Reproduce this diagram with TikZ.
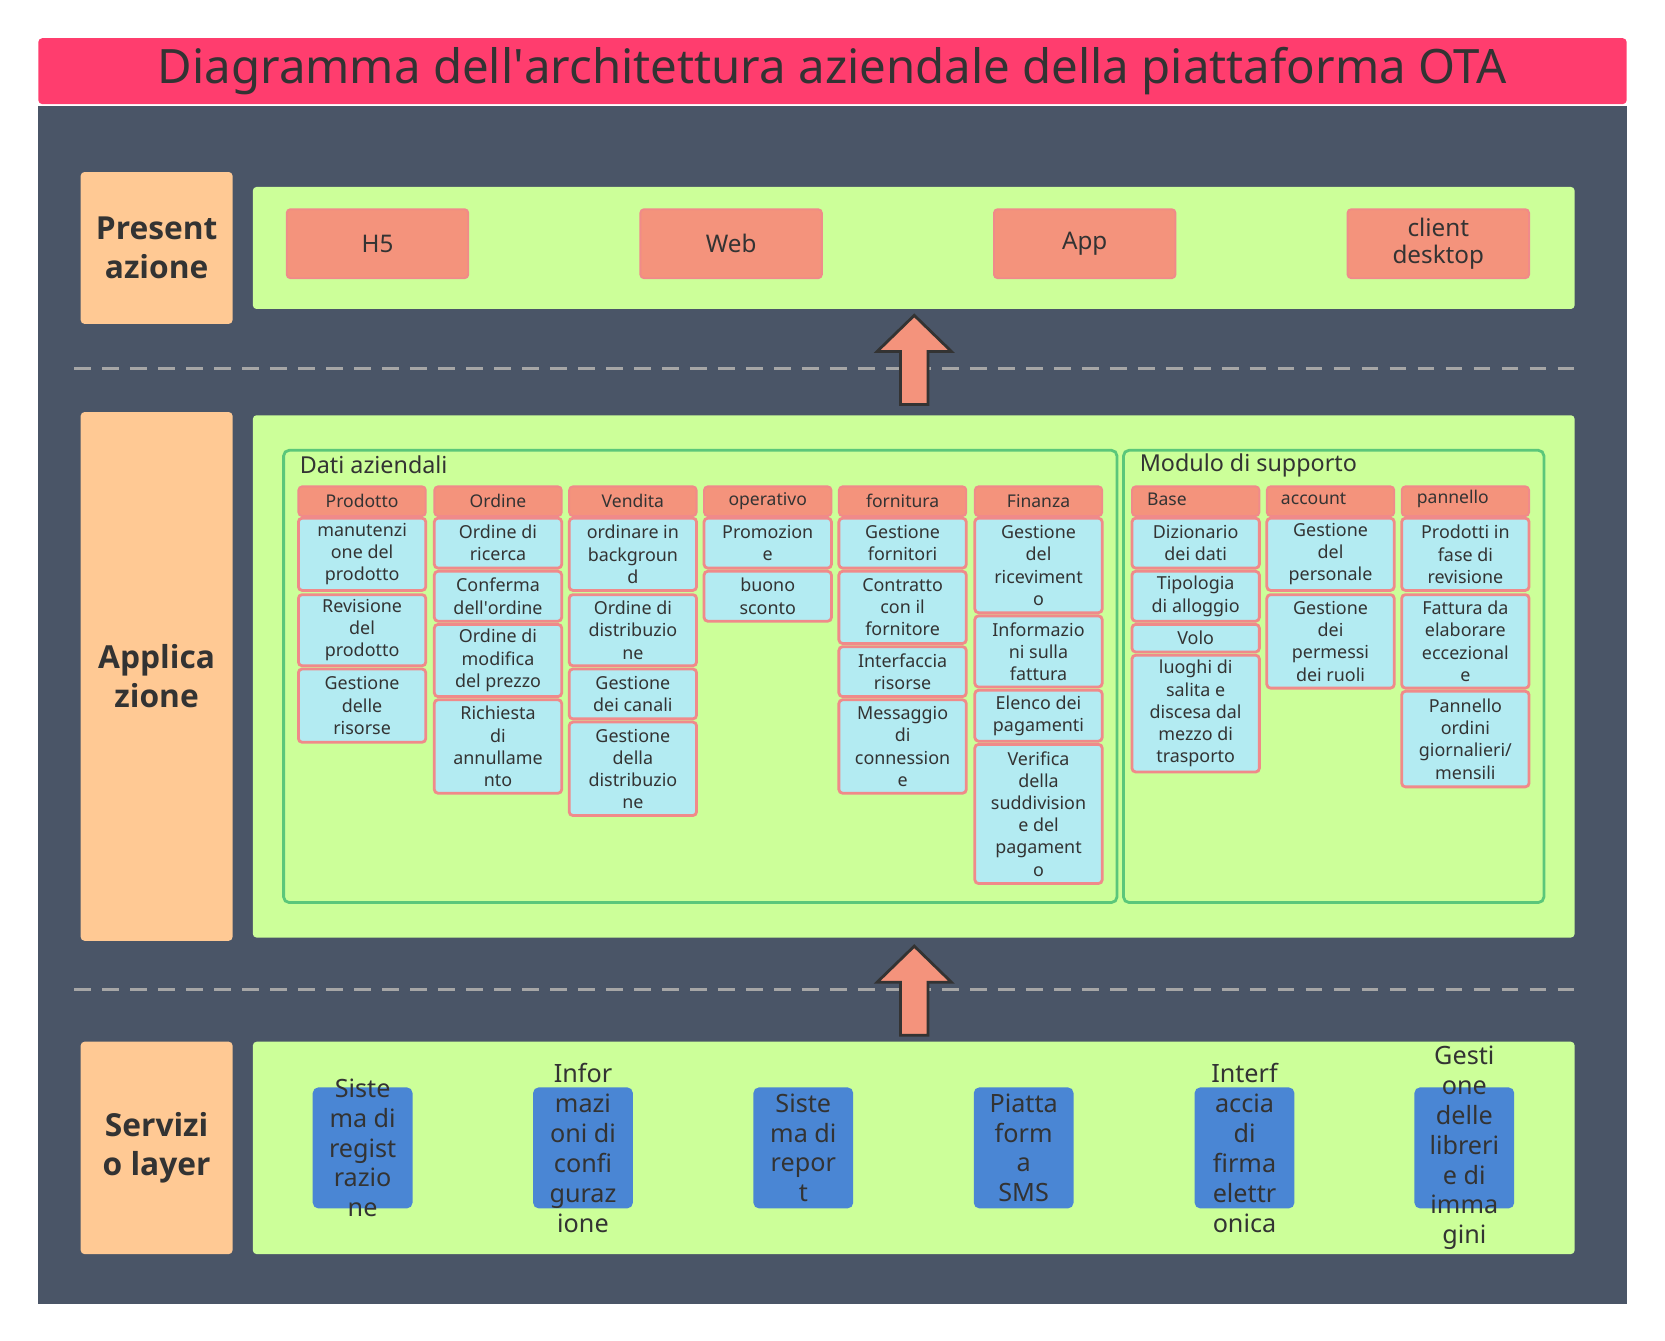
\documentclass[tikz,border=0pt]{standalone}
\usepackage{fontspec}
\setmainfont{Noto Sans}
\newfontfamily\lblfont{Open Sans}
\definecolor{bg}{HTML}{4A5567}
\definecolor{titlec}{HTML}{FF3D6E}
\definecolor{peach}{HTML}{FFC994}
\definecolor{lgreen}{HTML}{CCFF99}
\definecolor{salmon}{HTML}{F4937C}
\definecolor{salb}{HTML}{F08A8A}
\definecolor{cyanb}{HTML}{B3EBF2}
\definecolor{gborder}{HTML}{5BC77A}
\definecolor{blueb}{HTML}{4A86D4}
\definecolor{txt}{HTML}{333333}
\tikzset{
  px/.style={x=0.02cm,y=-0.02cm},
  lbl/.style={fill=peach,rounded corners=2pt,inner sep=0,align=center,font=\lblfont\fontsize{17}{21}\selectfont\bfseries,text=txt},
  panel/.style={fill=lgreen,rounded corners=2pt,inner sep=0},
  pres/.style={fill=salmon,draw=salb,line width=1pt,rounded corners=2pt,minimum width=3.42cm,minimum height=1.3cm,inner sep=0,align=center,font=\fontsize{13}{14}\selectfont,text=txt},
  grp/.style={draw=gborder,line width=1.5pt,rounded corners=3pt,inner sep=0},
  hdr/.style={fill=salmon,draw=salb,line width=1pt,rounded corners=2pt,minimum width=2.4cm,minimum height=0.56cm,inner sep=0,font=\fontsize{9.4}{11}\selectfont,text=txt},
  itembox/.style={fill=cyanb,draw=salb,line width=1.5pt,rounded corners=2pt,minimum width=2.4cm,inner sep=0,align=center,font=\fontsize{9.6}{11.9}\selectfont,text=txt},
  svc/.style={fill=blueb,rounded corners=3pt,minimum width=1.88cm,minimum height=2.28cm,inner sep=0},
  svct/.style={align=center,font=\fontsize{13.5}{16}\selectfont,text=txt,inner sep=0},
  bigarrow/.style={fill=salmon,draw=txt,line width=1.5pt},
  sep/.style={draw=gray!70,dashed,dash pattern=on 9pt off 6pt,line width=1.5pt}
}
\newcommand\itm[5]{\node[itembox,minimum height={(#4-#3)*0.02cm}] (#1) at (#2,{(#3+#4)/2}) {#5};}
\newcommand\hd[3]{\node[hdr] (#1) at (#2,472) {#3};}
\newcommand\hdl[4]{\node[hdr] (#1) at (#2,472) {}; \node[anchor=west,inner sep=0,font=\fontsize{9.4}{11}\selectfont,text=txt] (#1t) at (#3,470) {#4};}
\begin{document}
\begin{tikzpicture}[px]
\useasboundingbox (0,0) rectangle (1568,1262);
\fill[white] (0,0) rectangle (1568,1262);
\fill[bg] (36,100) rectangle (1532,1228);
\node[fill=titlec,rounded corners=2pt,minimum width=29.92cm,minimum height=1.24cm,inner sep=0,font=\fontsize{25.4}{28}\selectfont,text=txt] (title) at (784,67) {Diagramma dell\textquotesingle architettura aziendale della piattaforma OTA};
% left labels
\node[lbl,minimum width=2.86cm,minimum height=2.86cm] (lp) at (147.5,233.5) {Present\\azione};
\node[lbl,minimum width=2.86cm,minimum height=9.96cm] (la) at (147.5,637) {Applica\\zione};
\node[lbl,minimum width=2.86cm,minimum height=4cm] (ls) at (147.5,1081) {Servizi\\o layer};
% panels
\node[panel,minimum width=24.9cm,minimum height=2.3cm] (pp) at (860.5,233.5) {};
\node[panel,minimum width=24.9cm,minimum height=9.84cm] (pa) at (860.5,637) {};
\node[panel,minimum width=24.9cm,minimum height=4cm] (ps) at (860.5,1081) {};
% separators
\draw[sep] (70,347) -- (1483,347);
\draw[sep] (70,932) -- (1483,932);
% arrows
\draw[bigarrow] (848,381) -- (848,331) -- (826,331) -- (861,297) -- (896,331) -- (874,331) -- (874,381) -- cycle;
\draw[bigarrow] (848,975) -- (848,925) -- (826,925) -- (861,891) -- (896,925) -- (874,925) -- (874,975) -- cycle;
% presentation
\node[pres] (h5) at (355.5,229.5) {H5};
\node[pres] (web) at (688.5,229.5) {Web};
\node[pres] (app) at (1021.5,229.5) {App};
\node[pres] (cd) at (1354.5,229.5) {client\\desktop};
% groups
\node[grp,minimum width=15.7cm,minimum height=8.52cm] (g1) at (659.5,637) {};
\node[grp,minimum width=7.92cm,minimum height=8.52cm] (g2) at (1256,637) {};
\node[anchor=west,font=\fontsize{12.5}{14}\selectfont,text=txt,inner sep=0] (g1t) at (282,438) {Dati aziendali};
\node[anchor=west,font=\fontsize{12.5}{14}\selectfont,text=txt,inner sep=0] (g2t) at (1073,438) {Modulo di supporto};
% headers
\hd{h1}{341}{Prodotto}
\hd{h2}{469}{Ordine}
\hd{h3}{596}{Vendita}
\hd{h4}{723}{operativo}
\hd{h5}{850}{fornitura}
\hd{h6}{978}{Finanza}
\hdl{h7}{1126}{1080}{Base}
\hdl{h8}{1253}{1206}{account}
\hdl{h9}{1380}{1334}{pannello}
% items
\itm{a1}{341}{488}{556}{manutenzi\\one del\\prodotto}
\itm{a2}{341}{560}{627}{Revisione\\del\\prodotto}
\itm{a3}{341}{630}{699}{Gestione\\delle\\risorse}
\itm{b1}{469}{488}{535}{Ordine di\\ricerca}
\itm{b2}{469}{538}{585}{Conferma\\dell\textquotesingle ordine}
\itm{b3}{469}{588}{656}{Ordine di\\modifica\\del prezzo}
\itm{b4}{469}{659}{747}{Richiesta\\di\\annullame\\nto}
\itm{c1}{596}{488}{556}{ordinare in\\backgroun\\d}
\itm{c2}{596}{560}{627}{Ordine di\\distribuzio\\ne}
\itm{c3}{596}{630}{677}{Gestione\\dei canali}
\itm{c4}{596}{680}{768}{Gestione\\della\\distribuzio\\ne}
\itm{d1}{723}{488}{535}{Promozion\\e}
\itm{d2}{723}{538}{585}{buono\\sconto}
\itm{e1}{850}{488}{535}{Gestione\\fornitori}
\itm{e2}{850}{538}{606}{Contratto\\con il\\fornitore}
\itm{e3}{850}{609}{656}{Interfaccia\\risorse}
\itm{e4}{850}{659}{747}{Messaggio\\di\\connession\\e}
\itm{f1}{978}{488}{577}{Gestione\\del\\riceviment\\o}
\itm{f2}{978}{580}{647}{Informazio\\ni sulla\\fattura}
\itm{f3}{978}{650}{698}{Elenco dei\\pagamenti}
\itm{f4}{978}{701}{832}{Verifica\\della\\suddivision\\e del\\pagament\\o}
\itm{k1}{1126}{488}{535}{Dizionario\\dei dati}
\itm{k2}{1126}{538}{585}{Tipologia\\di alloggio}
\itm{k3}{1126}{588}{614}{Volo}
\itm{k4}{1126}{617}{727}{luoghi di\\salita e\\discesa dal\\mezzo di\\trasporto}
\itm{m1}{1253}{488}{556}{Gestione\\del\\personale}
\itm{m2}{1253}{560}{648}{Gestione\\dei\\permessi\\dei ruoli}
\itm{n1}{1380}{488}{556}{Prodotti in\\fase di\\revisione}
\itm{n2}{1380}{560}{648}{Fattura da\\elaborare\\eccezional\\e}
\itm{n3}{1380}{651}{741}{Pannello\\ordini\\giornalieri/\\mensili}
% services
\node[svc] (s1) at (341.5,1081) {};
\node[svc] (s2) at (549,1081) {};
\node[svc] (s3) at (756.5,1081) {};
\node[svc] (s4) at (964,1081) {};
\node[svc] (s5) at (1172,1081) {};
\node[svc] (s6) at (1379,1081) {};
\node[svct] (t1) at (s1) {Siste\\ma di\\regist\\razio\\ne};
\node[svct] (t2) at (s2) {Infor\\mazi\\oni di\\confi\\guraz\\ione};
\node[svct] (t3) at (s3) {Siste\\ma di\\repor\\t};
\node[svct] (t4) at (s4) {Piatta\\form\\a\\SMS};
\node[svct] (t5) at (s5) {Interf\\accia\\di\\firma\\elettr\\onica};
\node[svct] (t6) at (s6) {Gesti\\one\\delle\\libreri\\e di\\imma\\gini};
\end{tikzpicture}
\end{document}
